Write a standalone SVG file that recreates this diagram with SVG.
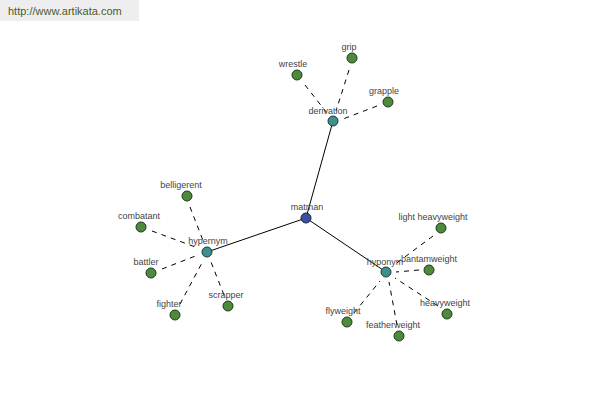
<svg xmlns="http://www.w3.org/2000/svg" width="600" height="400" viewBox="0 0 600 400">
<style>
.lbl{font-family:"Liberation Sans",Arial,sans-serif;font-size:9px;fill:#444;text-anchor:middle}
.leaf{fill:#4f8a3c;stroke:#1e3a1a;stroke-width:1}
.mid{fill:#3f8f8c;stroke:#1a3a3a;stroke-width:1}
.root{fill:#3c4fa0;stroke:#1a2250;stroke-width:1}
.solid{stroke:#000;stroke-width:1;fill:none}
.dash{stroke:#000;stroke-width:1;stroke-dasharray:5,5;fill:none}
</style>
<rect x="0" y="0" width="600" height="400" fill="#fff"/>
<rect x="0" y="0" width="139" height="21" fill="#eeeeee"/>
<text x="8" y="15" font-family="'Liberation Sans',Arial,sans-serif" font-size="11" fill="#4a5a32">http://www.artikata.com</text>
<g id="connectors">
<line class="solid" x1="306" y1="218" x2="333" y2="121"/>
<line class="solid" x1="306" y1="218" x2="207" y2="252"/>
<line class="solid" x1="306" y1="218" x2="386" y2="272"/>
<line class="dash" x1="305" y1="85" x2="327" y2="113"/>
<line class="dash" x1="349" y1="70" x2="336" y2="111"/>
<line class="dash" x1="377" y1="106" x2="343" y2="119"/>
<line class="dash" x1="190" y1="207" x2="204" y2="243"/>
<line class="dash" x1="152" y1="231" x2="198" y2="248"/>
<line class="dash" x1="162" y1="269" x2="198" y2="255"/>
<line class="dash" x1="180" y1="304" x2="203" y2="261"/>
<line class="dash" x1="224" y1="295" x2="211" y2="262"/>
<line class="dash" x1="433" y1="236" x2="394" y2="265"/>
<line class="dash" x1="419" y1="270" x2="396" y2="272"/>
<line class="dash" x1="438" y1="306" x2="395" y2="278"/>
<line class="dash" x1="397" y1="325" x2="389" y2="282"/>
<line class="dash" x1="354" y1="313" x2="380" y2="281"/>
</g>
<g id="matman"><circle class="root" cx="306" cy="218" r="5"/><text class="lbl" x="307" y="210">matman</text></g>
<g id="derivation"><circle class="mid" cx="333" cy="121" r="5"/><text class="lbl" x="328" y="114">derivation</text></g>
<g id="hypernym"><circle class="mid" cx="207" cy="252" r="5"/><text class="lbl" x="208" y="244">hypernym</text></g>
<g id="hyponym"><circle class="mid" cx="386" cy="272" r="5"/><text class="lbl" x="385" y="265">hyponym</text></g>
<g id="wrestle"><circle class="leaf" cx="297" cy="75" r="5"/><text class="lbl" x="293" y="67">wrestle</text></g>
<g id="grip"><circle class="leaf" cx="352" cy="58" r="5"/><text class="lbl" x="349" y="50">grip</text></g>
<g id="grapple"><circle class="leaf" cx="388" cy="102" r="5"/><text class="lbl" x="384" y="94">grapple</text></g>
<g id="belligerent"><circle class="leaf" cx="187" cy="196" r="5"/><text class="lbl" x="181" y="188">belligerent</text></g>
<g id="combatant"><circle class="leaf" cx="141" cy="227" r="5"/><text class="lbl" x="139" y="219">combatant</text></g>
<g id="battler"><circle class="leaf" cx="151" cy="273" r="5"/><text class="lbl" x="146" y="265">battler</text></g>
<g id="fighter"><circle class="leaf" cx="175" cy="315" r="5"/><text class="lbl" x="169" y="307">fighter</text></g>
<g id="scrapper"><circle class="leaf" cx="228" cy="306" r="5"/><text class="lbl" x="226" y="298">scrapper</text></g>
<g id="light_heavyweight"><circle class="leaf" cx="441" cy="228" r="5"/><text class="lbl" x="433" y="220">light heavyweight</text></g>
<g id="bantamweight"><circle class="leaf" cx="429" cy="270" r="5"/><text class="lbl" x="429" y="262">bantamweight</text></g>
<g id="heavyweight"><circle class="leaf" cx="447" cy="314" r="5"/><text class="lbl" x="445" y="306">heavyweight</text></g>
<g id="featherweight"><circle class="leaf" cx="399" cy="336" r="5"/><text class="lbl" x="393" y="328">featherweight</text></g>
<g id="flyweight"><circle class="leaf" cx="347" cy="322" r="5"/><text class="lbl" x="343" y="314">flyweight</text></g>
</svg>
